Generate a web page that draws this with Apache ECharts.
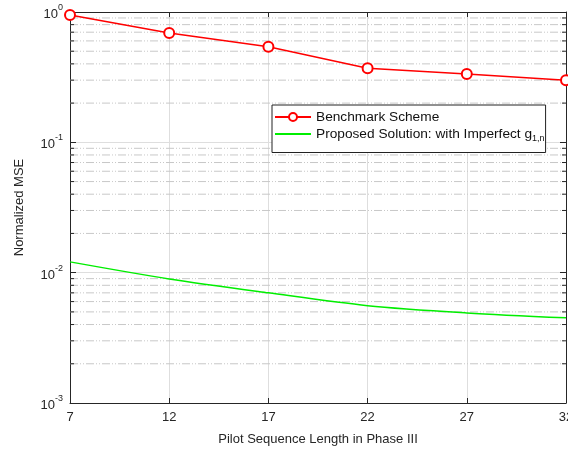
<!DOCTYPE html>
<html><head><meta charset="utf-8">
<script src="https://cdn.jsdelivr.net/npm/echarts@6/dist/echarts.min.js"></script>
<style>html,body{margin:0;padding:0;background:#fff}#c{width:568px;height:454px}</style>
</head><body><div id="c"></div>
<script>
const xValues = [7, 12, 17, 22, 27, 32];
const benchmark = [0.95, 0.69, 0.542, 0.37, 0.335, 0.30];
const proposed = [0.0121, 0.00895, 0.0070, 0.00558, 0.00491, 0.0045];
const minorValues = [];
[0.001, 0.01, 0.1].forEach(function (d) { for (let k = 2; k <= 9; k++) minorValues.push(+(d * k).toPrecision(3)); });

const font = '"Liberation Sans", Arial, Helvetica, sans-serif';
const chart = echarts.init(document.getElementById('c'), null, {renderer: 'canvas'});
const yLabelRich = {
  b: {fontSize: 13, fontFamily: font, color: '#262626', verticalAlign: 'bottom', lineHeight: 18},
  s: {fontSize: 9, fontFamily: font, color: '#262626', verticalAlign: 'top', lineHeight: 18, padding: [0, 0, 7, 0]}
};
function pairs(ys) { return xValues.map(function (x, i) { return [x, ys[i]]; }); }

chart.setOption({
  animation: false,
  backgroundColor: '#fff',
  textStyle: {fontFamily: font},
  grid: {left: 70, right: 2, top: 12, bottom: 51, containLabel: false, outerBoundsMode: 'none'},
  legend: {
    orient: 'vertical', left: 272, top: 105,
    data: [
      {name: 'Benchmark Scheme'},
      {name: 'Proposed Solution: with Imperfect g', itemStyle: {opacity: 0}}
    ],
    itemWidth: 36, itemHeight: 10, itemGap: 3,
    padding: [5, 1, 9, 2],
    backgroundColor: '#fff', borderColor: '#222', borderWidth: 1,
    textStyle: {fontSize: 13.7, fontFamily: font, color: '#111',
      rich: {sub: {fontSize: 9, fontFamily: font, color: '#111', verticalAlign: 'bottom', padding: [10, 0, 0, 0]}}},
    formatter: function (n) { return n.indexOf('Imperfect') >= 0 ? n + '{sub|1,n}' : n; }
  },
  xAxis: [{
    type: 'value', min: 7, max: 32, interval: 5, position: 'bottom',
    axisLine: {show: true, onZero: false, lineStyle: {color: '#262626', width: 1}},
    axisTick: {show: true, inside: true, length: 5, lineStyle: {color: '#262626'}},
    axisLabel: {fontSize: 13, fontFamily: font, color: '#262626', margin: 8, showMaxLabel: true},
    splitLine: {show: true, lineStyle: {color: '#dedede', width: 1}},
    name: 'Pilot Sequence Length in Phase III', nameLocation: 'middle', nameGap: 30,
    nameTextStyle: {fontSize: 13, fontFamily: font, color: '#262626'}
  }, {
    type: 'value', min: 7, max: 32, interval: 5, position: 'top',
    axisLine: {show: true, onZero: false, lineStyle: {color: '#262626', width: 1}},
    axisTick: {show: true, inside: true, length: 5, lineStyle: {color: '#262626'}},
    axisLabel: {show: false}, splitLine: {show: false}
  }],
  yAxis: [{
    type: 'log', logBase: 10, min: 0.001, max: 1, position: 'left',
    axisLine: {show: true, onZero: false, lineStyle: {color: '#262626', width: 1}},
    axisTick: {show: true, inside: true, length: 6, lineStyle: {color: '#262626'}},
    axisLabel: {margin: 7, formatter: function (v) { return '{b|10}{s|' + Math.round(Math.log10(v)) + '}'; }, rich: yLabelRich},
    splitLine: {show: true, lineStyle: {color: '#dedede', width: 1}},
    name: 'Normalized MSE', nameLocation: 'middle', nameGap: 44, nameRotate: 90,
    nameTextStyle: {fontSize: 13, fontFamily: font, color: '#262626'}
  }, {
    type: 'log', logBase: 10, min: 0.001, max: 1, position: 'right',
    axisLine: {show: true, onZero: false, lineStyle: {color: '#262626', width: 1}},
    axisTick: {show: true, inside: true, length: 6, lineStyle: {color: '#262626'}},
    axisLabel: {show: false}, splitLine: {show: false}
  }],
  series: [{
    name: 'minor', type: 'custom', xAxisIndex: 0, yAxisIndex: 0, silent: true, z: 1,
    data: minorValues.map(function (v) { return [7, v]; }),
    renderItem: function (params, api) {
      const cs = params.coordSys;
      const y = api.coord([7, api.value(1)])[1];
      const tick = {stroke: '#262626', lineWidth: 1};
      return {type: 'group', children: [
        {type: 'line', shape: {x1: cs.x, y1: y, x2: cs.x + cs.width, y2: y},
          style: {stroke: '#c8c8c8', lineWidth: 1, lineDash: [8, 2, 1, 2, 1, 2]}},
        {type: 'line', shape: {x1: cs.x, y1: y, x2: cs.x + 4, y2: y}, style: tick},
        {type: 'line', shape: {x1: cs.x + cs.width - 4, y1: y, x2: cs.x + cs.width, y2: y}, style: tick}
      ]};
    }
  }, {
    name: 'Benchmark Scheme', type: 'line', data: pairs(benchmark), z: 5,
    symbol: 'emptyCircle', symbolSize: 10,
    lineStyle: {color: '#ff0000', width: 1.5},
    itemStyle: {color: '#ff0000', borderColor: '#ff0000', borderWidth: 1.5}
  }, {
    name: 'Proposed Solution: with Imperfect g', type: 'line', data: pairs(proposed), z: 5,
    smooth: 0.3, symbol: 'none', showSymbol: false,
    lineStyle: {color: '#00ee00', width: 1.5}, itemStyle: {color: '#00ee00'}
  }]
});
</script></body></html>
